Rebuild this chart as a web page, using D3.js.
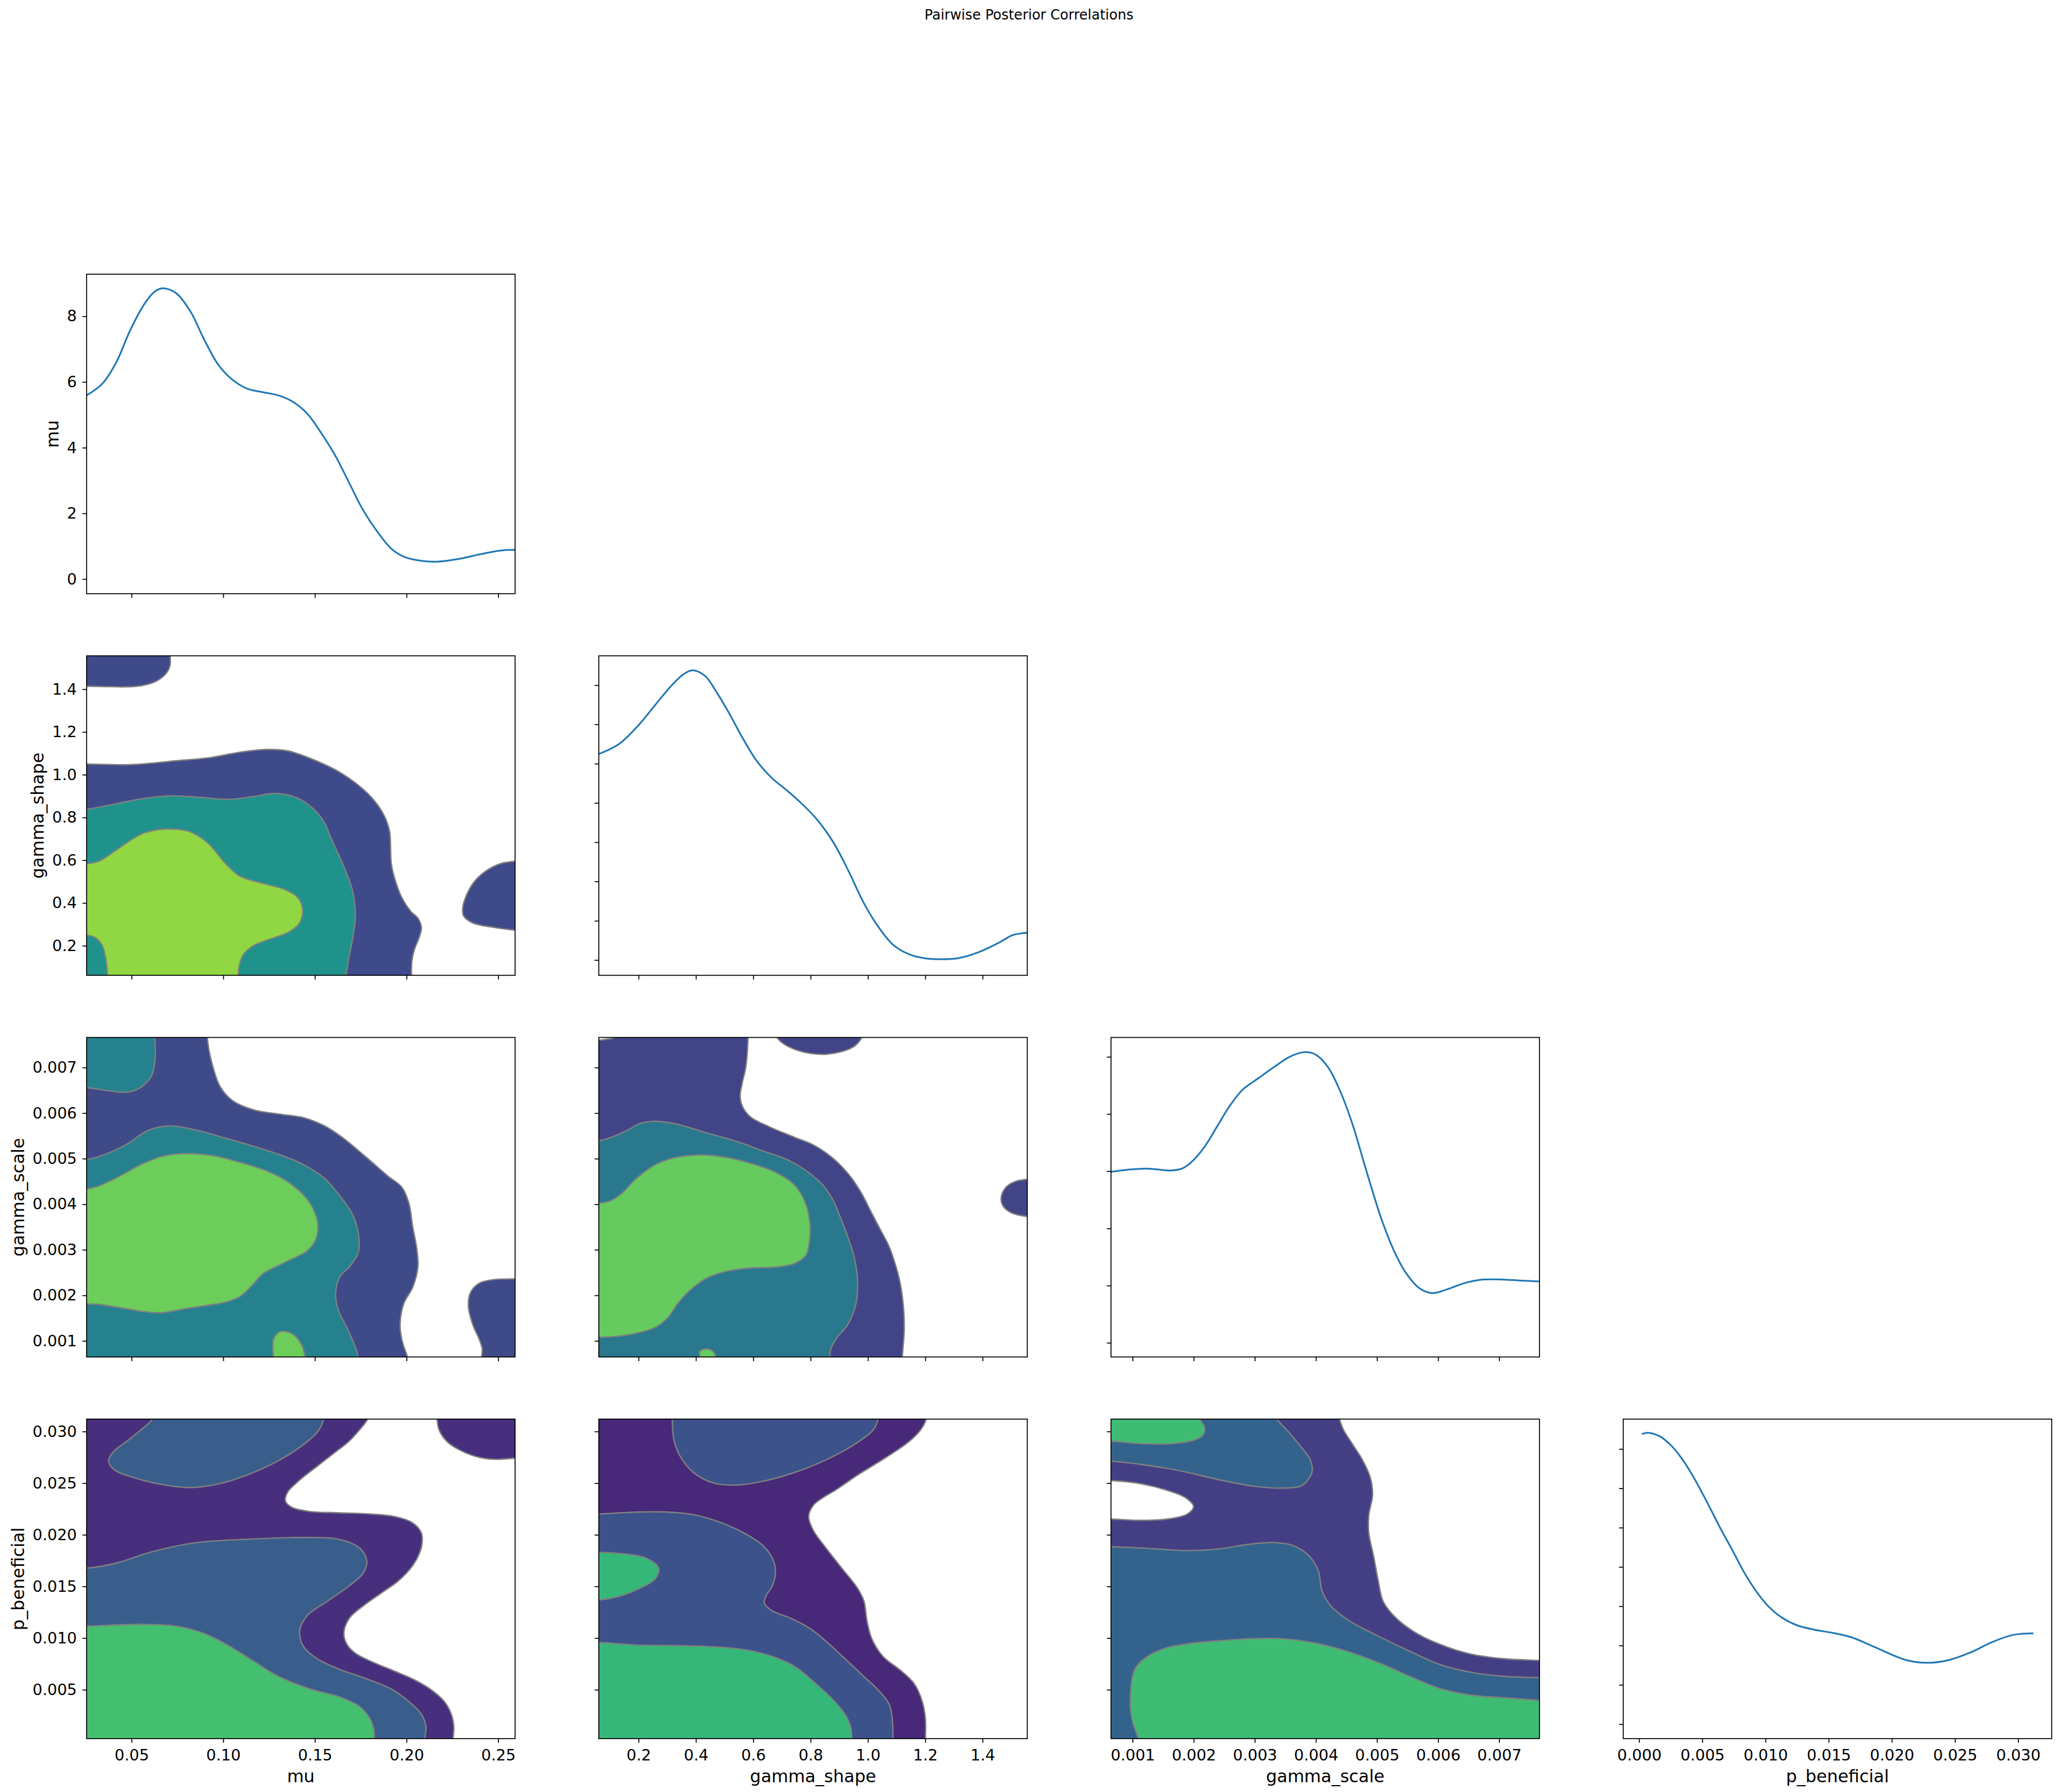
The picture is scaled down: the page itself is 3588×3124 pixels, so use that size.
<!DOCTYPE html>
<html>
<head>
<meta charset="utf-8">
<script src="https://cdn.jsdelivr.net/npm/d3@7"></script>
<style>
  body { margin: 0; background: #fff; }
</style>
</head>
<body>
<script>
// ---------- data ----------
const title = 'Pairwise Posterior Correlations';
const params = ['mu', 'gamma_shape', 'gamma_scale', 'p_beneficial'];

// axis limits (data units)
const muLim = [0.0255, 0.2592];
const shapeLim = [0.0615, 1.556];
const scaleLim = [0.000647, 0.00766];
const benLim = [0.000273, 0.0312];
const benKdeLim = [-0.00126, 0.03266];

// tick values
const muTicks = [0.05, 0.10, 0.15, 0.20, 0.25];
const shapeTicks = [0.2, 0.4, 0.6, 0.8, 1.0, 1.2, 1.4];
const scaleTicks = [0.001, 0.002, 0.003, 0.004, 0.005, 0.006, 0.007];
const benXTicks = [0.000, 0.005, 0.010, 0.015, 0.020, 0.025, 0.030];
const benYTicks = [0.005, 0.010, 0.015, 0.020, 0.025, 0.030];

// marginal densities
const muDensLim = [-0.445, 9.28];
const muDensTicks = [0, 2, 4, 6, 8];
const muKde = [[0.0255,5.59],[0.0341,5.95],[0.0418,6.61],[0.0494,7.59],[0.0571,8.38],[0.0629,8.76],[0.0677,8.85],[0.0744,8.70],[0.0822,8.14],[0.0898,7.27],[0.0975,6.51],[0.1052,6.06],[0.1129,5.80],[0.1225,5.68],[0.1302,5.59],[0.1379,5.40],[0.1456,5.05],[0.1533,4.46],[0.1610,3.77],[0.1686,2.94],[0.1763,2.10],[0.1841,1.44],[0.1918,0.92],[0.1994,0.66],[0.2091,0.55],[0.2167,0.53],[0.2283,0.61],[0.2398,0.75],[0.2513,0.87],[0.2592,0.89]];

const shapeDensLim = [-0.078, 1.549];
const shapeDensTicks = [0, 0.2, 0.4, 0.6, 0.8, 1.0, 1.2, 1.4];
const shapeKde = [[0.0616,1.049],[0.133,1.101],[0.202,1.199],[0.261,1.304],[0.314,1.396],[0.356,1.454],[0.386,1.475],[0.431,1.448],[0.473,1.362],[0.516,1.257],[0.559,1.141],[0.612,1.014],[0.665,0.927],[0.718,0.863],[0.771,0.794],[0.824,0.713],[0.878,0.603],[0.931,0.458],[0.984,0.295],[1.037,0.168],[1.090,0.075],[1.144,0.029],[1.197,0.009],[1.250,0.004],[1.314,0.009],[1.388,0.041],[1.463,0.093],[1.505,0.127],[1.557,0.139]];

const scaleDensLim = [-12.4, 266.9];
const scaleDensTicks = [0, 50, 100, 150, 200, 250];
const scaleKde = [[0.000648,149.5],[0.000990,151.6],[0.001249,152.3],[0.001611,150.6],[0.001817,152.5],[0.001973,158.5],[0.002179,171.4],[0.002387,189.4],[0.002593,207.3],[0.002800,221.2],[0.003058,231.2],[0.003317,241.1],[0.003575,250.1],[0.003809,254.1],[0.003990,252.1],[0.004197,241.1],[0.004404,219.2],[0.004610,189.4],[0.004765,161.5],[0.004921,133.6],[0.005076,107.7],[0.005283,79.9],[0.005489,59.9],[0.005697,47.6],[0.005903,43.4],[0.006111,46.0],[0.006421,52.0],[0.006679,55.0],[0.006990,55.4],[0.007352,54.4],[0.007662,53.6]];

const benDensLim = [-3.68, 77.6];
const benDensTicks = [0, 10, 20, 30, 40, 50, 60, 70];
const benKde = [[0.00021,73.8],[0.00075,74.1],[0.00159,73.3],[0.00256,70.8],[0.00352,66.9],[0.00449,61.8],[0.00545,56.0],[0.00642,49.9],[0.00739,44.2],[0.00835,38.4],[0.00931,33.6],[0.01028,29.8],[0.01125,27.2],[0.01245,25.2],[0.01390,24.0],[0.01535,23.2],[0.01680,22.1],[0.01824,20.2],[0.01970,18.1],[0.02114,16.3],[0.02283,15.6],[0.02452,16.3],[0.02621,18.2],[0.02790,20.8],[0.02959,22.7],[0.03121,23.1]];

// filled density contours: lvl 1..3 (0 = empty hole), line = contour, via = corners outside the axes
const contMuShape = [
  {lvl:1, line:[[0.0717,1.58],[0.0712,1.555],[0.0710,1.51],[0.0687,1.472],[0.0629,1.435],[0.0552,1.416],[0.0475,1.411],[0.0360,1.412],[0.0256,1.414],[0.02,1.414]], via:[[0.02,1.58]]},
  {lvl:1, line:[[0.02,1.050],[0.0256,1.050],[0.0494,1.047],[0.0744,1.065],[0.0937,1.081],[0.1090,1.105],[0.1244,1.118],[0.1360,1.110],[0.1513,1.063],[0.1629,1.015],[0.1744,0.946],[0.1821,0.882],[0.1879,0.807],[0.1908,0.733],[0.1913,0.659],[0.1917,0.584],[0.1937,0.510],[0.1975,0.424],[0.2023,0.361],[0.2062,0.329],[0.2081,0.286],[0.2071,0.244],[0.2042,0.180],[0.2029,0.127],[0.2027,0.062],[0.2027,0.04]], via:[[0.02,0.04]]},
  {lvl:1, line:[[0.27,0.595],[0.2592,0.595],[0.2513,0.584],[0.2437,0.552],[0.2369,0.499],[0.2321,0.424],[0.2306,0.371],[0.2312,0.339],[0.2360,0.307],[0.2475,0.286],[0.2592,0.273],[0.27,0.272]], via:[]},
  {lvl:2, line:[[0.02,0.839],[0.0256,0.839],[0.0398,0.861],[0.0552,0.887],[0.0706,0.901],[0.0860,0.895],[0.1033,0.885],[0.1167,0.898],[0.1283,0.912],[0.1398,0.893],[0.1494,0.839],[0.1552,0.776],[0.1590,0.701],[0.1629,0.627],[0.1667,0.552],[0.1706,0.456],[0.1721,0.339],[0.1706,0.233],[0.1687,0.148],[0.1671,0.062],[0.1668,0.04]], via:[[0.02,0.04]]},
  {lvl:3, line:[[0.02,0.584],[0.0256,0.584],[0.0321,0.595],[0.0417,0.648],[0.0552,0.722],[0.0648,0.743],[0.0725,0.746],[0.0821,0.733],[0.0917,0.680],[0.1013,0.584],[0.1090,0.526],[0.1206,0.494],[0.1340,0.462],[0.1408,0.424],[0.1433,0.371],[0.1417,0.307],[0.1360,0.265],[0.1263,0.233],[0.1167,0.201],[0.1110,0.159],[0.1087,0.105],[0.1083,0.062],[0.1083,0.04]], via:[[0.02,0.04]]},
  {lvl:2, line:[[0.02,0.249],[0.0256,0.249],[0.0302,0.238],[0.0340,0.201],[0.0360,0.137],[0.0369,0.062],[0.037,0.04]], via:[[0.02,0.04]]}
];

const contMuScale = [
  {lvl:1, line:[[0.0913,0.0078],[0.0913,0.00767],[0.0937,0.00712],[0.0985,0.00657],[0.1052,0.00627],[0.1167,0.00607],[0.1321,0.00597],[0.1437,0.00590],[0.1552,0.00572],[0.1648,0.00547],[0.1783,0.00502],[0.1898,0.00462],[0.1975,0.00437],[0.2013,0.00402],[0.2033,0.00352],[0.2056,0.00302],[0.2062,0.00262],[0.2033,0.00217],[0.1985,0.00182],[0.1965,0.00137],[0.1975,0.00102],[0.2004,0.00066],[0.2015,0.0005]], via:[[0.02,0.0005],[0.02,0.0078]]},
  {lvl:1, line:[[0.27,0.00236],[0.2592,0.00236],[0.2475,0.002345],[0.2398,0.00227],[0.2350,0.00207],[0.2337,0.00177],[0.2360,0.00137],[0.2398,0.00102],[0.2413,0.00082],[0.2410,0.00066],[0.241,0.0005]], via:[[0.27,0.0005]]},
  {lvl:2, line:[[0.0625,0.0078],[0.0627,0.00767],[0.0629,0.00722],[0.0610,0.00682],[0.0552,0.00657],[0.0494,0.00647],[0.0437,0.00646],[0.0360,0.00650],[0.0256,0.00656],[0.02,0.00658]], via:[[0.02,0.0078]]},
  {lvl:2, line:[[0.02,0.00498],[0.0256,0.00498],[0.0360,0.00510],[0.0475,0.00532],[0.0590,0.00562],[0.0706,0.00572],[0.0860,0.00562],[0.1013,0.00545],[0.1167,0.00527],[0.1321,0.00507],[0.1437,0.00487],[0.1552,0.00457],[0.1629,0.00422],[0.1706,0.00377],[0.1740,0.00327],[0.1735,0.00292],[0.1687,0.00262],[0.1638,0.00242],[0.1613,0.00202],[0.1629,0.00167],[0.1677,0.00127],[0.1715,0.00092],[0.1735,0.00066],[0.1738,0.0005]], via:[[0.02,0.0005]]},
  {lvl:3, line:[[0.02,0.004335],[0.0256,0.004335],[0.0321,0.00440],[0.0437,0.00462],[0.0552,0.00487],[0.0667,0.00505],[0.0783,0.00511],[0.0937,0.00507],[0.1090,0.00492],[0.1244,0.00472],[0.1360,0.00447],[0.1456,0.00412],[0.1504,0.00377],[0.1517,0.00352],[0.1504,0.00322],[0.1456,0.00297],[0.1360,0.00277],[0.1283,0.00262],[0.1215,0.00247],[0.1158,0.00222],[0.1090,0.00197],[0.1013,0.00185],[0.0898,0.00177],[0.0783,0.00170],[0.0667,0.00162],[0.0552,0.00165],[0.0437,0.00173],[0.0321,0.00180],[0.0256,0.00181],[0.02,0.00181]], via:[]},
  {lvl:3, line:[[0.1273,0.0005],[0.1273,0.00066],[0.1273,0.00102],[0.1292,0.00115],[0.1321,0.00121],[0.1379,0.00115],[0.1427,0.00092],[0.1446,0.00066],[0.1448,0.0005]], via:[]}
];

const contShapeScale = [
  {lvl:1, line:[[0.582,0.0078],[0.582,0.00767],[0.5787,0.00727],[0.5732,0.00697],[0.5622,0.00667],[0.5545,0.00637],[0.5622,0.00615],[0.5897,0.00592],[0.6558,0.00570],[0.7439,0.00547],[0.8099,0.00530],[0.8760,0.00502],[0.9310,0.00467],[0.9751,0.00427],[1.0081,0.00387],[1.0411,0.00347],[1.0742,0.00307],[1.0962,0.00267],[1.1127,0.00227],[1.1237,0.00177],[1.1270,0.00127],[1.1204,0.00066],[1.120,0.0005]], via:[[0.03,0.0005],[0.03,0.0078]]},
  {lvl:0, line:[[0.03,0.0076],[0.0615,0.0076],[0.0888,0.00762],[0.1163,0.00766],[0.125,0.0078]], via:[[0.03,0.0078]]},
  {lvl:1, line:[[0.6833,0.0078],[0.6833,0.00767],[0.6998,0.00755],[0.7439,0.00740],[0.7989,0.00731],[0.8540,0.00729],[0.9090,0.00735],[0.9530,0.00747],[0.9773,0.00765],[0.979,0.0078]], via:[]},
  {lvl:1, line:[[1.6,0.004545],[1.556,0.004545],[1.5146,0.0045],[1.4815,0.00437],[1.465,0.00415],[1.4705,0.00397],[1.498,0.00382],[1.556,0.00373],[1.6,0.00373]], via:[]},
  {lvl:2, line:[[0.03,0.005395],[0.0615,0.005395],[0.1053,0.00547],[0.1604,0.00562],[0.2044,0.00577],[0.2539,0.00582],[0.3255,0.00577],[0.4356,0.00557],[0.5457,0.00537],[0.6338,0.00517],[0.7219,0.00497],[0.7879,0.00472],[0.8430,0.00442],[0.8760,0.00412],[0.9035,0.00372],[0.9310,0.00327],[0.9531,0.00282],[0.9641,0.00232],[0.9586,0.00182],[0.9310,0.00137],[0.8925,0.00107],[0.8705,0.00082],[0.8672,0.00066],[0.867,0.0005]], via:[[0.03,0.0005]]},
  {lvl:3, line:[[0.03,0.00402],[0.0615,0.00402],[0.0998,0.00407],[0.1383,0.00422],[0.1934,0.00457],[0.2595,0.00487],[0.3255,0.00502],[0.4136,0.00508],[0.5017,0.00503],[0.5897,0.00490],[0.6778,0.00470],[0.7439,0.00442],[0.7824,0.00402],[0.7967,0.00362],[0.7967,0.00322],[0.7824,0.00287],[0.7439,0.00270],[0.6778,0.00262],[0.5897,0.00260],[0.5017,0.00252],[0.4356,0.00237],[0.3806,0.00212],[0.3365,0.00182],[0.3035,0.00152],[0.2595,0.00130],[0.1934,0.00117],[0.1383,0.00111],[0.0615,0.00108],[0.03,0.00108]], via:[]},
  {lvl:3, line:[[0.4136,0.0005],[0.4136,0.00066],[0.4136,0.00077],[0.4356,0.000825],[0.4576,0.00078],[0.4686,0.00066],[0.469,0.0005]], via:[]}
];

const contMuBen = [
  {lvl:1, line:[[0.1787,0.032],[0.1787,0.0312],[0.1744,0.03017],[0.1687,0.02907],[0.1610,0.02798],[0.1513,0.02664],[0.1417,0.02530],[0.1350,0.02408],[0.1340,0.02323],[0.1379,0.02262],[0.1475,0.02225],[0.1629,0.02213],[0.1802,0.02201],[0.1937,0.02176],[0.2033,0.02116],[0.2081,0.02018],[0.2085,0.01921],[0.2071,0.01823],[0.2033,0.01701],[0.1956,0.01555],[0.1860,0.01433],[0.1763,0.01311],[0.1687,0.01190],[0.1658,0.01043],[0.1677,0.00934],[0.1725,0.00848],[0.1821,0.00763],[0.1937,0.00678],[0.2033,0.00605],[0.2129,0.00507],[0.2206,0.00386],[0.2244,0.00264],[0.2258,0.00142],[0.2254,0.0003],[0.2254,0.0]], via:[[0.02,0.0],[0.02,0.032]]},
  {lvl:1, line:[[0.2167,0.032],[0.2167,0.0312],[0.2177,0.03017],[0.2225,0.02895],[0.2302,0.02810],[0.2398,0.02749],[0.2494,0.02730],[0.2592,0.02742],[0.27,0.02745]], via:[[0.27,0.032]]},
  {lvl:2, line:[[0.0613,0.032],[0.0613,0.0312],[0.0552,0.03017],[0.0475,0.02907],[0.0398,0.02798],[0.0375,0.02712],[0.0408,0.02627],[0.0513,0.02554],[0.0648,0.02493],[0.0821,0.02457],[0.0975,0.02493],[0.1129,0.02578],[0.1283,0.02700],[0.1417,0.02846],[0.1513,0.02993],[0.1548,0.0312],[0.155,0.032]], via:[]},
  {lvl:2, line:[[0.02,0.01677],[0.0256,0.01677],[0.0417,0.01726],[0.0610,0.01835],[0.0840,0.01921],[0.1129,0.01957],[0.1475,0.01974],[0.1629,0.01957],[0.1744,0.01872],[0.1783,0.01750],[0.1763,0.01628],[0.1687,0.01506],[0.1571,0.01360],[0.1456,0.01214],[0.1417,0.01068],[0.1437,0.00922],[0.1513,0.00800],[0.1629,0.00702],[0.1783,0.00605],[0.1917,0.00507],[0.2013,0.00386],[0.2081,0.00264],[0.2106,0.00142],[0.2100,0.0003],[0.21,0.0]], via:[[0.02,0.0]]},
  {lvl:3, line:[[0.02,0.01116],[0.0256,0.01116],[0.0552,0.01133],[0.0744,0.01116],[0.0898,0.01043],[0.1033,0.00922],[0.1167,0.00775],[0.1302,0.00629],[0.1475,0.00507],[0.1629,0.00434],[0.1744,0.00337],[0.1802,0.00215],[0.1821,0.00117],[0.1825,0.0003],[0.1825,0.0]], via:[[0.02,0.0]]}
];

const contShapeBen = [
  {lvl:1, line:[[1.203,0.032],[1.203,0.0312],[1.1843,0.03017],[1.1403,0.02895],[1.0632,0.02749],[0.9641,0.02578],[0.8870,0.02432],[0.8430,0.02359],[0.8099,0.02286],[0.7934,0.02176],[0.8099,0.02042],[0.8540,0.01872],[0.9090,0.01677],[0.9641,0.01482],[0.9861,0.01360],[0.9971,0.01165],[1.0136,0.00995],[1.0521,0.00824],[1.1182,0.00678],[1.1622,0.00556],[1.1898,0.00385],[1.2008,0.00215],[1.2008,0.0003],[1.2008,0.0]], via:[[0.03,0.0],[0.03,0.032]]},
  {lvl:2, line:[[0.3178,0.032],[0.3178,0.0312],[0.3233,0.02920],[0.3475,0.02749],[0.3916,0.02603],[0.4576,0.02505],[0.5347,0.02481],[0.6338,0.02518],[0.7439,0.02603],[0.8540,0.02725],[0.9641,0.02895],[1.0191,0.03017],[1.0356,0.0312],[1.037,0.032]], via:[]},
  {lvl:2, line:[[0.03,0.02201],[0.0615,0.02201],[0.1934,0.02220],[0.3035,0.02220],[0.4026,0.02189],[0.4907,0.02115],[0.5677,0.02018],[0.6338,0.01896],[0.6668,0.01774],[0.6778,0.01653],[0.6668,0.01506],[0.6448,0.01409],[0.6393,0.01336],[0.6668,0.01263],[0.7329,0.01190],[0.7989,0.01092],[0.8540,0.00970],[0.9200,0.00800],[0.9861,0.00629],[1.0411,0.00483],[1.0742,0.00361],[1.0852,0.00215],[1.0874,0.0003],[1.0874,0.0]], via:[[0.03,0.0]]},
  {lvl:3, line:[[0.03,0.00958],[0.0615,0.00958],[0.1934,0.00934],[0.3585,0.00926],[0.5017,0.00909],[0.6008,0.00873],[0.6778,0.00812],[0.7439,0.00727],[0.8099,0.00580],[0.8760,0.00410],[0.9200,0.00264],[0.9398,0.00142],[0.9442,0.0003],[0.9442,0.0]], via:[[0.03,0.0]]},
  {lvl:3, line:[[0.03,0.0183],[0.0615,0.0183],[0.1383,0.01818],[0.2264,0.01774],[0.2705,0.01677],[0.2595,0.01579],[0.2044,0.01482],[0.1383,0.01409],[0.0668,0.01372],[0.03,0.01372]], via:[]}
];

const contScaleBen = [
  {lvl:1, line:[[0.00439,0.032],[0.00439,0.0312],[0.004452,0.03017],[0.004607,0.02871],[0.004762,0.02725],[0.004891,0.02554],[0.004928,0.02384],[0.004866,0.02189],[0.004866,0.02018],[0.004943,0.01799],[0.005021,0.01555],[0.005098,0.01360],[0.005279,0.01214],[0.005589,0.01068],[0.006003,0.00946],[0.006519,0.00848],[0.007088,0.00800],[0.00766,0.00784],[0.0078,0.0078]], via:[[0.0078,0.0],[0.0005,0.0],[0.0005,0.032]]},
  {lvl:0, line:[[0.0005,0.02525],[0.000647,0.02525],[0.001145,0.02493],[0.001558,0.02432],[0.001868,0.02359],[0.001997,0.02274],[0.001894,0.02201],[0.001558,0.02152],[0.001145,0.02140],[0.000647,0.02152],[0.0005,0.02152]], via:[]},
  {lvl:2, line:[[0.0005,0.02712],[0.000647,0.02712],[0.001145,0.02681],[0.001817,0.02615],[0.002437,0.02530],[0.003005,0.02469],[0.003470,0.02452],[0.003780,0.02481],[0.003935,0.02603],[0.003909,0.02725],[0.003729,0.02871],[0.003522,0.03017],[0.003367,0.0312],[0.00336,0.032]], via:[[0.0005,0.032]]},
  {lvl:3, line:[[0.0021,0.032],[0.002101,0.0312],[0.002178,0.03041],[0.002153,0.02968],[0.002023,0.02920],[0.001661,0.02883],[0.001145,0.02883],[0.000647,0.02907],[0.0005,0.02907]], via:[[0.0005,0.032]]},
  {lvl:2, line:[[0.0005,0.01884],[0.000647,0.01884],[0.001145,0.01872],[0.001920,0.01847],[0.002437,0.01865],[0.002902,0.01908],[0.003315,0.01925],[0.003625,0.01896],[0.003884,0.01799],[0.004039,0.01652],[0.004101,0.01457],[0.004246,0.01311],[0.004556,0.01165],[0.005021,0.01019],[0.005537,0.00873],[0.006054,0.00739],[0.006571,0.00666],[0.007088,0.00629],[0.00766,0.00617],[0.0078,0.00615]], via:[[0.0078,0.0],[0.0005,0.0]]},
  {lvl:3, line:[[0.0011,0.0],[0.001093,0.0003],[0.000990,0.00215],[0.000964,0.00434],[0.001041,0.00702],[0.001248,0.00824],[0.001506,0.00897],[0.001920,0.00946],[0.002437,0.00975],[0.002953,0.00995],[0.003419,0.00995],[0.003935,0.00958],[0.004504,0.00873],[0.005072,0.00751],[0.005537,0.00629],[0.006054,0.00507],[0.006571,0.00446],[0.007088,0.00422],[0.00766,0.00398],[0.0078,0.00396]], via:[[0.0078,0.0]]}
];

// fill colours for the three levels of each pair panel
const colorsMuShape = ['#3f4a8a', '#20928c', '#90d743'];
const colorsMuScale = ['#3f4a89', '#26818e', '#6ccd5a'];
const colorsShapeScale = ['#414487', '#2a788e', '#65cb5e'];
const colorsMuBen = ['#472f7d', '#3a5e8c', '#44bf70'];
const colorsShapeBen = ['#482878', '#3b528b', '#35b779'];
const colorsScaleBen = ['#443f85', '#33638d', '#3fbc73'];

// ---------- layout ----------
const W = 3588, H = 3124;
const left0 = 151, top0 = 478, stepX = 893, stepY = 665.3;
const pw = 747, ph = 557;
const tickFont = 27, labelFont = 30;

const xLims = [muLim, shapeLim, scaleLim, benKdeLim];
const yLims = [null, shapeLim, scaleLim, benLim];
const xTicks = [muTicks, shapeTicks, scaleTicks, benXTicks];
const yTicks = [null, shapeTicks, scaleTicks, benYTicks];
const fmts = [d3.format('.2f'), d3.format('.1f'), d3.format('.3f'), d3.format('.3f')];

const diag = [
  {kde: muKde, lim: muDensLim, ticks: muDensTicks},
  {kde: shapeKde, lim: shapeDensLim, ticks: shapeDensTicks},
  {kde: scaleKde, lim: scaleDensLim, ticks: scaleDensTicks},
  {kde: benKde, lim: benDensLim, ticks: benDensTicks}
];
const pairs = {
  '1-0': {shapes: contMuShape, colors: colorsMuShape},
  '2-0': {shapes: contMuScale, colors: colorsMuScale},
  '2-1': {shapes: contShapeScale, colors: colorsShapeScale},
  '3-0': {shapes: contMuBen, colors: colorsMuBen},
  '3-1': {shapes: contShapeBen, colors: colorsShapeBen},
  '3-2': {shapes: contScaleBen, colors: colorsScaleBen}
};

const svg = d3.select('body').append('svg')
    .attr('width', W)
    .attr('height', H)
    .style('font-family', "'DejaVu Sans', sans-serif");

svg.append('rect').attr('width', W).attr('height', H).attr('fill', '#fff');

svg.append('text')
    .text(title)
    .attr('x', W / 2)
    .attr('y', 34)
    .attr('text-anchor', 'middle')
    .attr('font-size', 24)
    .attr('fill', '#000');

const defs = svg.append('defs');

function styleAxis(g) {
  g.select('.domain').remove();
  g.attr('font-family', null).attr('font-size', null);
  g.selectAll('.tick line').attr('stroke', '#000').attr('stroke-width', 1.67);
  g.selectAll('.tick text').attr('fill', '#000').attr('font-size', tickFont);
}

for (let r = 0; r < 4; r++) {
  for (let c = 0; c <= r; c++) {
    const px = left0 + c * stepX, py = top0 + r * stepY;
    const g = svg.append('g').attr('transform', `translate(${px},${py})`);
    const isDiag = r === c;

    const x = d3.scaleLinear().domain(xLims[c]).range([0, pw]);
    const y = d3.scaleLinear().domain(isDiag ? diag[r].lim : yLims[r]).range([ph, 0]);

    const clipId = `clip-${r}-${c}`;
    defs.append('clipPath').attr('id', clipId)
        .append('rect').attr('width', pw).attr('height', ph);
    const plot = g.append('g').attr('clip-path', `url(#${clipId})`);

    if (isDiag) {
      const line = d3.line()
          .x(d => x(d[0]))
          .y(d => y(d[1]))
          .curve(d3.curveCatmullRom.alpha(0.5));
      plot.append('path')
          .attr('d', line(diag[r].kde))
          .attr('fill', 'none')
          .attr('stroke', '#1f77b4')
          .attr('stroke-width', 3);
    } else {
      const p = pairs[`${r}-${c}`];
      const line = d3.line()
          .x(d => x(d[0]))
          .y(d => y(d[1]))
          .curve(d3.curveCatmullRom.alpha(0.5));
      p.shapes.forEach(s => {
        let d = line(s.line);
        s.via.forEach(v => { d += `L${x(v[0])},${y(v[1])}`; });
        d += 'Z';
        plot.append('path')
            .attr('d', d)
            .attr('fill', s.lvl ? p.colors[s.lvl - 1] : '#fff');
        plot.append('path')
            .attr('d', line(s.line))
            .attr('fill', 'none')
            .attr('stroke', '#808080')
            .attr('stroke-width', 2.4);
      });
    }

    // x axis
    const bottomRow = r === 3;
    const xAxis = d3.axisBottom(x)
        .tickValues(xTicks[c])
        .tickSize(7.3)
        .tickPadding(11.5)
        .tickFormat(bottomRow ? fmts[c] : '');
    g.append('g')
        .attr('transform', `translate(0,${ph})`)
        .call(xAxis)
        .call(styleAxis);

    if (bottomRow) {
      g.append('text')
          .text(params[c])
          .attr('x', pw / 2)
          .attr('y', ph + 76)
          .attr('text-anchor', 'middle')
          .attr('font-size', labelFont)
          .attr('fill', '#000');
    }

    // y axis
    const firstCol = c === 0;
    const yVals = isDiag ? diag[r].ticks : yTicks[r];
    const yFmt = r === 0 ? d3.format('d') : fmts[r];
    const yAxis = d3.axisLeft(y)
        .tickValues(yVals)
        .tickSize(7.3)
        .tickPadding(9.7)
        .tickFormat(firstCol ? yFmt : '');
    const yg = g.append('g').call(yAxis).call(styleAxis);

    if (firstCol) {
      const bb = yg.node().getBBox();
      g.append('text')
          .text(params[r])
          .attr('transform', `translate(${bb.x - 15},${ph / 2}) rotate(-90)`)
          .attr('text-anchor', 'middle')
          .attr('font-size', labelFont)
          .attr('fill', '#000');
    }

    // spines
    g.append('rect')
        .attr('width', pw)
        .attr('height', ph)
        .attr('fill', 'none')
        .attr('stroke', '#000')
        .attr('stroke-width', 1.67);
  }
}
</script>
</body>
</html>
